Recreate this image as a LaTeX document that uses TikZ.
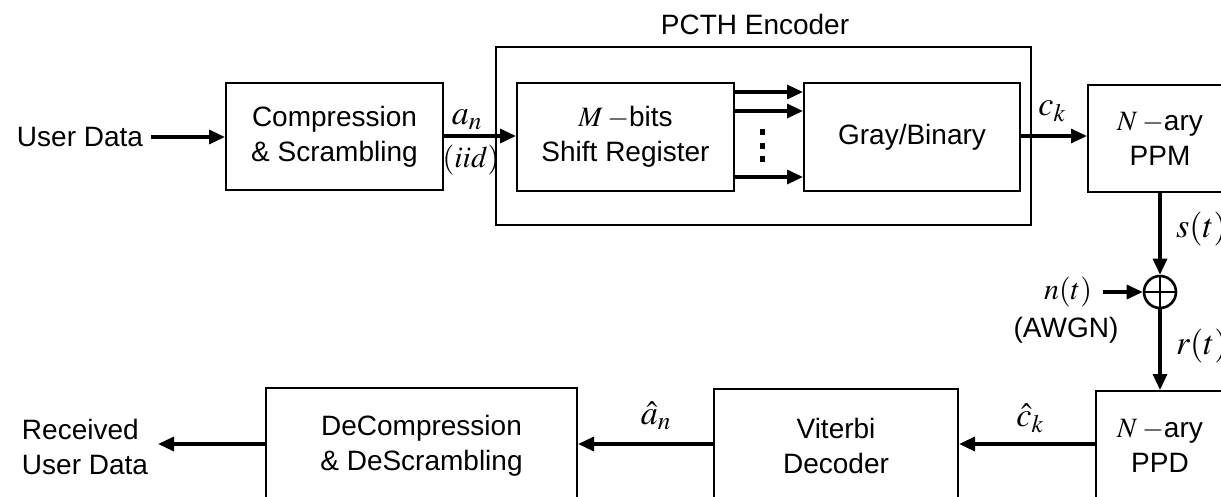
\documentclass[tikz,border=0pt]{standalone}
\usepackage{mathptmx}
\usepackage[no-math]{fontspec}
\setmainfont{Liberation Sans}
\usetikzlibrary{arrows.meta,calc}
\tikzset{
  txt/.style={font=\fontsize{28}{35}\selectfont, align=center, inner sep=0pt},
  mth/.style={font=\fontsize{30}{34}\selectfont, inner sep=0pt},
  bigmth/.style={font=\fontsize{34}{38}\selectfont, inner sep=0pt},
  box/.style={draw, line width=2pt, inner sep=0pt, align=center, font=\fontsize{28}{35}\selectfont},
  sig/.style={line width=3.2pt, -{Triangle[length=16pt,width=14pt]}},
  wire/.style={line width=3.2pt}
}
\begin{document}
\begin{tikzpicture}[x=1pt,y=-1pt]
\useasboundingbox (0,0) rectangle (1221,496);
\clip (0,0) rectangle (1221,496);
% top row
\node[txt] (ud) at (80,137) {User Data};
\node[box, minimum width=217pt, minimum height=107pt] (comp) at (334.5,136.5) {Compression\\\& Scrambling};
\node[box, minimum width=535pt, minimum height=178pt] (pcth) at (763.5,136) {};
\node[txt] (pcthl) at (755,24) {PCTH Encoder};
\node[box, minimum width=217pt, minimum height=108pt] (shreg) at (625.5,137) {$M$\,$-$bits\\Shift Register};
\node[box, minimum width=216pt, minimum height=108pt] (gray) at (912,137) {Gray/Binary};
\node[box, minimum width=144pt, minimum height=107pt] (ppm) at (1160,138.5) {$N$\,$-$ary\\PPM};
\node[bigmth] (an) at (467,120) {$a_n$};
\node[mth] (iid) at (471,160) {$(iid)$};
\node[bigmth] (ck) at (1052,111) {$c_k$};
% dots
\fill (760,129) rectangle (765,135);
\fill (760,143) rectangle (765,149);
\fill (760,156) rectangle (765,162);
% channel
\node[draw, circle, line width=2.6pt, minimum size=32pt, inner sep=0pt] (sum) at (1160,292) {};
\draw[line width=2.6pt] (sum.north) -- (sum.south) (sum.west) -- (sum.east);
\node[bigmth, anchor=west] (st) at (1176,229) {$s(t)$};
\node[bigmth, anchor=west] (rt) at (1176,346) {$r(t)$};
\node[mth] (nt) at (1068,292) {$n(t)$};
\node[txt] (awgn) at (1066,330) {(AWGN)};
% bottom row
\node[box, minimum width=128pt, minimum height=110pt] (ppd) at (1160,446) {$N$\,$-$ary\\PPD};
\node[box, minimum width=244pt, minimum height=114pt] (vit) at (836,446) {Viterbi\\Decoder};
\node[box, minimum width=311pt, minimum height=116pt] (dec) at (421.5,446) {DeCompression\\\& DeScrambling};
\node[txt, align=left] (rud) at (85,447) {Received\\User Data};
\node[bigmth] (chat) at (1030,418) {$\hat{c}_k$};
\node[bigmth] (ahat) at (656,416) {$\hat{a}_n$};
% coordinates
\coordinate (yb) at (0,444);
\coordinate (ya1) at (0,92);
\coordinate (ya2) at (0,111);
\coordinate (ya3) at (0,177);
\coordinate (rudend) at (158,444);
\coordinate (ntend) at (1103,292);
% connectors
\draw[sig] ($(ud.east)+(8,0)$) -- (comp.west |- ud.east);
\draw[sig] (comp.east |- 0,136) -- (shreg.west |- 0,136);
\draw[sig] (shreg.east |- ya1) -- (gray.west |- ya1);
\draw[sig] (shreg.east |- ya2) -- (gray.west |- ya2);
\draw[sig] (shreg.east |- ya3) -- (gray.west |- ya3);
\draw[sig] (gray.east |- 0,136) -- (ppm.west |- 0,136);
\draw[sig] (ppm.south) -- (sum.north);
\draw[sig] (ntend) -- (sum.west);
\draw[sig] (sum.south) -- (ppd.north);
\draw[sig] (ppd.west |- yb) -- (vit.east |- yb);
\draw[sig] (vit.west |- yb) -- (dec.east |- yb);
\draw[sig] (dec.west |- yb) -- (rudend);
\end{tikzpicture}
\end{document}
